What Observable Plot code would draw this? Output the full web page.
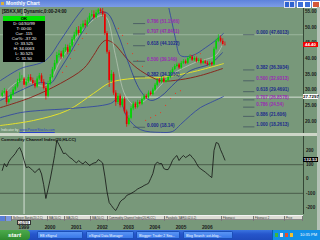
<!DOCTYPE html>
<html><head><meta charset="utf-8">
<script src="https://cdn.jsdelivr.net/npm/d3@7"></script>
<script src="https://cdn.jsdelivr.net/npm/@observablehq/plot@0.6"></script>
<style>
html,body{margin:0;padding:0;width:320px;height:240px;overflow:hidden;background:#78987a;}
#root{position:relative;width:320px;height:240px;overflow:hidden;background:#78987a;font-family:Arial,"Liberation Sans",sans-serif;}
.abs{position:absolute;}
.wrap{position:absolute;left:0;width:320px;overflow:hidden;}
.tag{position:absolute;left:303px;width:15px;height:5px;font-size:4.4px;line-height:5px;text-align:center;font-weight:bold;}
.tab{height:5px;border-right:0.5px solid #777;box-sizing:border-box;font-size:2.8px;line-height:5px;color:#333;overflow:hidden;white-space:nowrap;padding-left:1px;}
.task{position:absolute;top:231px;height:8px;border-radius:1.5px;font-size:3.4px;line-height:8px;color:#fff;white-space:nowrap;overflow:hidden;box-sizing:border-box;padding-left:2px;background:linear-gradient(#5a95f5,#3a78e8);border:0.5px solid #1b4fb8;}
</style></head><body><div id="root">
<div class="abs" style="left:0;top:0;width:320px;height:7px;background:linear-gradient(#5d82dc,#7d9de6);"></div>
<div class="abs" style="left:1px;top:1.5px;width:3px;height:3px;background:#d8b040;"></div>
<div class="abs" style="left:6px;top:0;font-size:5px;line-height:6px;color:#fff;font-weight:bold;">Monthly Chart</div>
<div class="abs" style="left:284px;top:1px;width:4px;height:5px;background:#2e62d0;border:0.5px solid #dde;"></div>
<div class="abs" style="left:289px;top:1px;width:4px;height:5px;background:#2e62d0;border:0.5px solid #dde;"></div>
<div class="abs" style="left:297px;top:1px;width:5px;height:5px;background:#3c6fd8;border:0.5px solid #fff;"></div>
<div class="abs" style="left:304px;top:1px;width:5px;height:5px;background:#3c6fd8;border:0.5px solid #fff;"></div>
<div class="abs" style="left:312px;top:1px;width:6px;height:5px;background:#d5583a;border:0.5px solid #fff;"></div>
<div class="abs" style="left:317px;top:7px;width:3px;height:223px;background:#b4c2b6;"></div>
<div id="price" class="wrap" style="top:8px;height:125px;"></div>
<div class="abs" style="left:0;top:133px;width:317px;height:3px;background:#cdd6c8;"></div>
<div id="cci" class="wrap" style="top:136px;height:94px;"></div>
<div class="abs" style="left:2px;top:8.5px;font-size:4.6px;line-height:5px;color:#111;font-weight:bold;white-space:nowrap;">[$BKX,M] Dynamic,0:00-24:00</div>
<div id="info" class="abs" style="left:3px;top:16px;width:42px;height:46px;background:#000;"></div>
<div class="abs" style="left:1px;top:136.5px;font-size:4.3px;line-height:5px;color:#111;font-weight:bold;white-space:nowrap;">Commodity Channel Index(20,HLCC)</div>
<div class="abs" style="left:1px;top:127.5px;font-size:3.4px;line-height:4px;white-space:nowrap;color:#dfe6df;">Indicator by <span style="color:#2840c8;text-decoration:underline;">www.PowerStocks.com</span></div>
<div id="tabs" class="abs" style="left:0;top:215px;width:303px;height:5px;background:#dcdcd4;display:flex;border-top:0.5px solid #f4f4f4;border-bottom:0.5px solid #888;box-sizing:border-box;"></div>
<div id="datebox" class="abs" style="top:220px;height:5px;width:14px;background:#fff;border:0.5px solid #333;box-sizing:border-box;font-size:4.2px;line-height:4.5px;text-align:center;color:#000;">04/99</div>
<div class="abs" style="left:0;top:230px;width:320px;height:10px;background:linear-gradient(#3b74e0,#2656cc 40%,#1f4bbd);"></div>
<div class="abs" style="left:0;top:230px;width:30px;height:10px;background:linear-gradient(#4caa4c,#2f8a2f);border-radius:0 4px 4px 0;"></div>
<div class="abs" style="left:8px;top:230px;font-size:6px;line-height:10px;color:#fff;font-style:italic;font-weight:bold;">start</div>
<div class="task" style="left:37px;width:46px;">EB eSignal</div>
<div class="task" style="left:86px;width:48px;">eSignal Data Manager</div>
<div class="task" style="left:136px;width:44px;">Blogger: Trader 2 Sea...</div>
<div class="task" style="left:183px;width:50px;">Blog Search: ast-blog...</div>
<div class="abs" style="left:272px;top:230px;width:48px;height:10px;background:#1290e8;border-left:0.5px solid #0a5cb0;"></div>
<div class="abs" style="left:275px;top:233px;width:3px;height:4px;background:#3cb83c;"></div>
<div class="abs" style="left:280px;top:233px;width:3px;height:4px;background:#e8e8e8;"></div>
<div class="abs" style="left:285px;top:233px;width:3px;height:4px;background:#e05030;"></div>
<div class="abs" style="left:290px;top:233px;width:3px;height:4px;background:#f0c030;"></div>
<div class="abs" style="left:300px;top:230px;font-size:4px;line-height:10px;color:#fff;white-space:nowrap;">10:35 PM</div>
</div>
<script>
// ---- Monthly candles, Jun 1998 .. Dec 2006 ----
const startYear = 1998, startMonth = 6;
const opens = [28,29,29.5,26,27,28.5,30,31,32.5,33.5,
33.525,31.5,32.5,34,33,32,31,33.5,34.5,32.5,
30.5,28,32,34,36.5,38.5,41,41.5,40.5,42.5,
43.5,42,44,46,47.5,49,48,50,51,50.5,
52,53.5,54,53,54.5,55.5,55,54,48,42,
33,35,29,26,28,25,27,23,19,21,
24,25.5,24.5,26,25.5,27,28,27.5,29,28.5,
30,31.5,33,32.5,33.5,32.5,33,34,35.5,36.5,
37.5,38,37,38.5,39,38.5,40,40.5,39.5,40,
39,39.5,38.5,39,38.5,38,38.5,38,43,45.5,
46.5,45.5,44.5];
const highs = [29.8,30.5,30,27.8,29.2,30.8,31.8,33.4,35.5,34.6,
34.0063,33.4,34.8,34.9,33.8,32.9,34.2,35.3,35.2,33.3,
31.2,32.8,34.9,37.2,39.4,42,42.6,42.3,43.3,44.4,
44.3,44.9,46.8,48.4,49.9,50.2,50.9,52,52.2,52.9,
54.4,55.3,55.2,55.4,60.14,56.8,56,54.8,48.6,42.6,
36.2,35.6,29.8,28.9,28.7,27.8,27.7,23.6,21.8,24.7,
26.2,26.1,26.7,26.6,27.8,28.7,28.6,29.7,29.6,30.6,
32.1,33.6,33.7,34.2,34.1,33.6,34.6,36.1,37.1,38.1,
38.6,38.5,39.1,39.7,39.6,40.6,41.2,41,40.6,40.5,
40.1,40,39.6,39.5,39.1,39,38.9,43.6,46.2,47.6013,
47.2,46.3,45.3];
const lows = [27.6,28.5,25.2,25.5,26.6,28,29.6,30.6,32,32.7,
30.525,31,32.1,32.6,31.6,30.4,30.6,33,32,30,
26.8,27.5,31.4,33.5,36,38,40.2,39.6,40,41.9,
41.2,41.6,43.5,45.4,47,47.2,47.5,49.4,49.6,50,
51.5,53,52.3,52.6,54,54.3,53.2,47.3,41.4,30.8,
32.4,28.3,24.8,25.4,24.3,24.4,22.4,18.14,18.6,20.5,
23.4,23.9,24,25,25,26.6,27,27.1,28,28.1,
29.6,31,32.1,32,32.1,32.2,32.6,33.6,35.1,36.2,
37.1,36.5,36.6,38.1,38.1,38.1,39.6,39.1,39.1,38.6,
38.6,38,38.1,38.1,37.6,37.6,37.5,37.7,42.6,45.1,
45,44,44];
const closes = [29,29.5,26,27,28.5,30,31,32.5,33.5,33.5,
31.5,32.5,34,33,32,31,33.5,34.5,32.5,30.5,
28,32,34,36.5,38.5,41,41.5,40.5,42.5,43.5,
42,44,46,47.5,49,48,50,51,50.5,52,
53.5,54,53,54.5,55.5,55,54,48,42,33,
35,29,26,28,25,27,23,19,21,24,
25.5,24.5,26,25.5,27,28,27.5,29,28.5,30,
31.5,33,32.5,33.5,32.5,33,34,35.5,36.5,37.5,
38,37,38.5,39,38.5,40,40.5,39.5,40,39,
39.5,38.5,39,38.5,38,38.5,38,43,45.5,46.5,
45.5,44.5,44.4];
const cciValues = [60,108,85,120,143,160,178,205,220,185,
130,80,85,75,59,45,60,73,35,-40,
-136,-70,0,80,165,269,240,210,178,180,
165,150,140,125,112,129,115,105,122,110,
94,104,112,115,136,125,112,20,-90,-165,
-185,-206,-220,-192,-160,-145,-136,-115,-108,-101,
-92,-82,-70,-62,-55,-45,-38,-30,3,38,
100,118,108,108,73,66,66,94,130,150,
164,129,150,164,150,160,171,152,135,108,
82,70,59,48,35,22,10,199,255,248,
205,170,132.53];

// ---- overlay studies (keypoints: decimal year, price) ----
const upperBandT = [1998.35,1999.11,2000.07,2000.64,2001.21,2001.71,2002.17,2002.74,2003.50,2004.08,2004.65,2004.84,2005.03,2005.22,2005.68,2006.18,2006.56,2006.86];
const upperBandV = [33.0,36.8,39.4,45.8,52.8,57.9,61,64,68,66,59.5,53.7,46.4,41.0,41.0,43.5,45.8,48.0];
const lowerBandT = [1998.35,1999.11,1999.88,2001.02,2002.55,2002.85,2003.20,2003.69,2004.46,2004.92,2005.22,2005.60,2005.98,2006.37,2006.86];
const lowerBandV = [21.2,22.8,23.5,24.1,25.7,27.3,21.2,17.4,16.5,16.8,19.0,21.9,24.4,26.0,27.9];
const blueMaT = [1998.35,1999.11,1999.88,2000.26,2000.64,2001.02,2001.40,2001.79,2002.17,2002.44,2002.82,2003.20,2003.69,2004.08,2004.46,2005.03,2005.60,2006.37,2006.82];
const blueMaV = [26.7,29.8,32.4,32.1,36.8,41.9,47.4,52.1,54.7,54.4,48.0,39.4,29.8,26.7,27.9,32.4,36.2,38.4,41.9];
const lightMaT = [1998.35,1999.11,2000.07,2000.64,2001.40,2002.17,2002.40,2002.74,2003.12,2003.50,2004.08,2004.84,2005.79,2006.56,2006.86];
const lightMaV = [27.6,33,31.4,39.4,48.3,53.7,53,41,28.2,25.1,28.2,34.6,38.8,41,45.1];
const brownMaT = [1998.35,1999.50,2000.64,2001.52,2001.90,2002.17,2002.36,2002.63,2003.24,2003.69,2004.46,2005.22,2005.98,2006.82];
const brownMaV = [24.4,27.6,32.1,36.8,41.0,44.5,45.8,45.1,39.4,36.2,33.0,33.3,34.6,36.8];
const yellowMaT = [1998.35,1999.61,2000.91,2001.90,2002.55,2003.43,2004.46,2005.60,2006.86];
const yellowMaV = [18.7,20.3,23.5,28.9,32.4,33.7,34.0,35.6,38.4];
const sarT = [2000.72,2000.87,2001.02,2001.18,2001.33,2001.48,2001.63,
2002.85,2003.01,2003.20,2003.39,2003.58,2003.77,
2003.89,2004.08,2004.27,2004.46,2004.65,2004.84,2005.03,2005.22,
2005.60,2005.79,2005.98];
const sarV = [35.6,37.5,40,42.6,44.5,46.4,48,
49.6,47.4,44.8,41.6,39.4,37.5,
20.3,21.2,21.9,22.8,25.1,27.3,28.9,29.8,
41,41.3,41.6];

// ---- Fibonacci retracements ----
const fibLeftRatios = ["0.786","0.707","0.618","0.500","0.382","0.000"];
const fibLeftPrices = [51.1566,47.8411,44.1022,39.149,34.1951,18.14];
const fibLeftFrom = 2003.43, fibLeftTo = 2003.89;
const fibRightRatios = ["0.000","0.382","0.500","0.618","0.707","0.786","0.886","1.000"];
const fibRightPrices = [47.6013,36.3934,32.9313,29.4691,26.8578,24.54,21.606,18.2613];
const fibRightFrom = 2007.63, fibRightTo = 2008.06;
const purpleRatios = ["0.786","0.500","0.707"];

// ---- axes / cursor ----
const priceTicks = [20,25,30,35,40,45,50,55];
const cciTicks = [200,100,0,-100,-200];
const years = [1999,2000,2001,2002,2003,2004,2005,2006];
const cursorDate = 1999 + 3/12, cursorPrice = 27.7297;
const lastPrice = 44.40, lastCci = 132.53;
const infoLines = ["D: 04/30/99","T: 00:00","Cur: .115","Cur%: -37.20","O: 33.525","H: 34.0063","L: 30.525","C: 31.50"];
const tabLabels = ["Bollinger Bands(20,2,C)","MA(10,C)","MA(20,C)","MA(50,C)","Commodity Channel Index(20,HLCC)","Parabolic SAR(0.02,0.2)","Fibonacci","Fibonacci 2","Price"];
const tabWidths = [36,17,26,17,57,57,32,31,18];

const xDomain = [1998.351, 2009.916];
const bars = opens.map((o,i)=>({t: startYear + (startMonth-1+i)/12, o, h: highs[i], l: lows[i], c: closes[i]}));
const cci = cciValues.map((v,i)=>({t: startYear + (startMonth-1+i)/12, v}));
const pts = (T,V)=>T.map((t,i)=>({t, v: V[i]}));
const col = d => d.c >= d.o ? "#00d400" : "#e80000";
const fibL = fibLeftRatios.map((r,i)=>({r, v: fibLeftPrices[i], x1: fibLeftFrom, x2: fibLeftTo}));
const fibR = fibRightRatios.map((r,i)=>({r, v: fibRightPrices[i], x1: fibRightFrom, x2: fibRightTo}));
const fibAll = fibL.concat(fibR);
const fibColor = d => purpleRatios.includes(d.r) ? "#9a2ab4" : "#1c2a8c";
const fmt = v => String(+v.toFixed(4));

const pricePlot = Plot.plot({
  width: 320, height: 125, marginTop: 0, marginBottom: 0, marginLeft: 0, marginRight: 17,
  style: {background: "none", fontFamily: "Arial", overflow: "hidden"},
  x: {domain: xDomain, axis: null},
  y: {domain: [16.15, 55.96], axis: null},
  color: {type: "identity"},
  marks: [
    Plot.ruleY([fibRightPrices[0]], {stroke: "#a9c2aa", strokeWidth: 0.7}),
    Plot.ruleY([cursorPrice], {stroke: "#eef3ee", strokeWidth: 0.8}),
    Plot.ruleX([cursorDate], {stroke: "#eef3ee", strokeWidth: 0.8}),
    Plot.line(pts(yellowMaT, yellowMaV), {x: "t", y: "v", stroke: "#e6e22a", strokeWidth: 1, curve: "catmull-rom", clip: true}),
    Plot.line(pts(brownMaT, brownMaV), {x: "t", y: "v", stroke: "#8a1c14", strokeWidth: 0.9, curve: "catmull-rom", clip: true}),
    Plot.line(pts(lowerBandT, lowerBandV), {x: "t", y: "v", stroke: "#2b3fa6", strokeWidth: 0.8, curve: "catmull-rom", clip: true}),
    Plot.line(pts(upperBandT, upperBandV), {x: "t", y: "v", stroke: "#2b3fa6", strokeWidth: 0.8, curve: "catmull-rom", clip: true}),
    Plot.line(pts(lightMaT, lightMaV), {x: "t", y: "v", stroke: "#c9d4c6", strokeWidth: 0.6, curve: "catmull-rom", clip: true}),
    Plot.line(pts(blueMaT, blueMaV), {x: "t", y: "v", stroke: "#24389a", strokeWidth: 0.8, curve: "catmull-rom", clip: true}),
    Plot.ruleX(bars, {x: "t", y1: "l", y2: "h", stroke: col, strokeWidth: 0.7, clip: true}),
    Plot.ruleX(bars, {x: "t", y1: "o", y2: "c", stroke: col, strokeWidth: 1.7, clip: true}),
    Plot.dot(pts(sarT, sarV), {x: "t", y: "v", r: 0.6, fill: "#e0402a", stroke: null, clip: true}),
    Plot.ruleY(fibAll, {y: "v", x1: "x1", x2: "x2", stroke: "#3b4a5c", strokeWidth: 0.7}),
    Plot.text(fibAll, {x: "x2", y: "v", text: d => d.r + " (" + fmt(d.v) + ")", textAnchor: "start", dx: 1.5, dy: -2.2, fill: fibColor, fontSize: 4.6, fontWeight: "bold"}),
    Plot.ruleX([xDomain[1]], {stroke: "#243224", strokeWidth: 0.8}),
    Plot.text(priceTicks, {y: d => d, text: d => d.toFixed(2), frameAnchor: "right", textAnchor: "start", dx: 1.5, fill: "#1a1a1a", fontSize: 4.6, fontWeight: "bold"})
  ]
});
document.getElementById("price").appendChild(pricePlot);

const cciPlot = Plot.plot({
  width: 320, height: 94, marginTop: 0, marginBottom: 16, marginLeft: 0, marginRight: 17,
  style: {background: "none", fontFamily: "Arial", overflow: "visible"},
  x: {domain: xDomain, axis: null},
  y: {domain: [-248, 297], axis: null},
  marks: [
    Plot.ruleY([100, -100], {stroke: "#3d4c3d", strokeWidth: 0.8}),
    Plot.ruleX([cursorDate], {stroke: "#eef3ee", strokeWidth: 0.8}),
    Plot.line(cci, {x: "t", y: "v", stroke: "#121212", strokeWidth: 0.8}),
    Plot.ruleX([xDomain[1]], {stroke: "#243224", strokeWidth: 0.8}),
    Plot.text(cciTicks, {y: d => d, text: d => String(d), frameAnchor: "right", textAnchor: "start", dx: 2.5, fill: "#1a1a1a", fontSize: 4.6, fontWeight: "bold"}),
    Plot.text(years, {x: d => d, text: d => String(d), frameAnchor: "bottom", textAnchor: "start", dx: 1, dy: 14, fill: "#1a1a1a", fontSize: 4.8, fontWeight: "bold"})
  ]
});
document.getElementById("cci").appendChild(cciPlot);

// value tags positioned through the plots' scales
const root = document.getElementById("root");
function tag(top, text, bg, fg) {
  const d = document.createElement("div");
  d.className = "tag";
  d.style.top = (top - 2.5) + "px";
  d.style.background = bg; d.style.color = fg;
  d.textContent = text;
  root.appendChild(d);
}
const py = pricePlot.scale("y"), cy = cciPlot.scale("y"), px = pricePlot.scale("x");
tag(8 + py.apply(lastPrice), lastPrice.toFixed(2), "#f00000", "#ffffff");
tag(8 + py.apply(cursorPrice), String(cursorPrice), "#ffffff", "#000000");
tag(136 + cy.apply(lastCci), lastCci.toFixed(2), "#000000", "#ffffff");
document.getElementById("datebox").style.left = (px.apply(cursorDate) - 7) + "px";

// cursor window
const info = document.getElementById("info");
info.innerHTML = '<div style="height:5px;background:#00e000;color:#000;font-size:4.4px;line-height:5px;text-align:center;font-weight:bold;">OK</div>' +
  infoLines.map(s => '<div style="height:5px;color:#fff;font-size:4.2px;line-height:5px;text-align:center;white-space:nowrap;">' + s + '</div>').join("");

// tab strip
const tabs = document.getElementById("tabs");
tabs.innerHTML = '<div class="tab" style="width:6px;background:#5a7ed8;"></div><div class="tab" style="width:6px;background:#7b98e0;"></div>' +
  tabLabels.map((s,i) => '<div class="tab" style="width:' + tabWidths[i] + 'px;">' + s + '</div>').join("");
</script>
</body></html>
